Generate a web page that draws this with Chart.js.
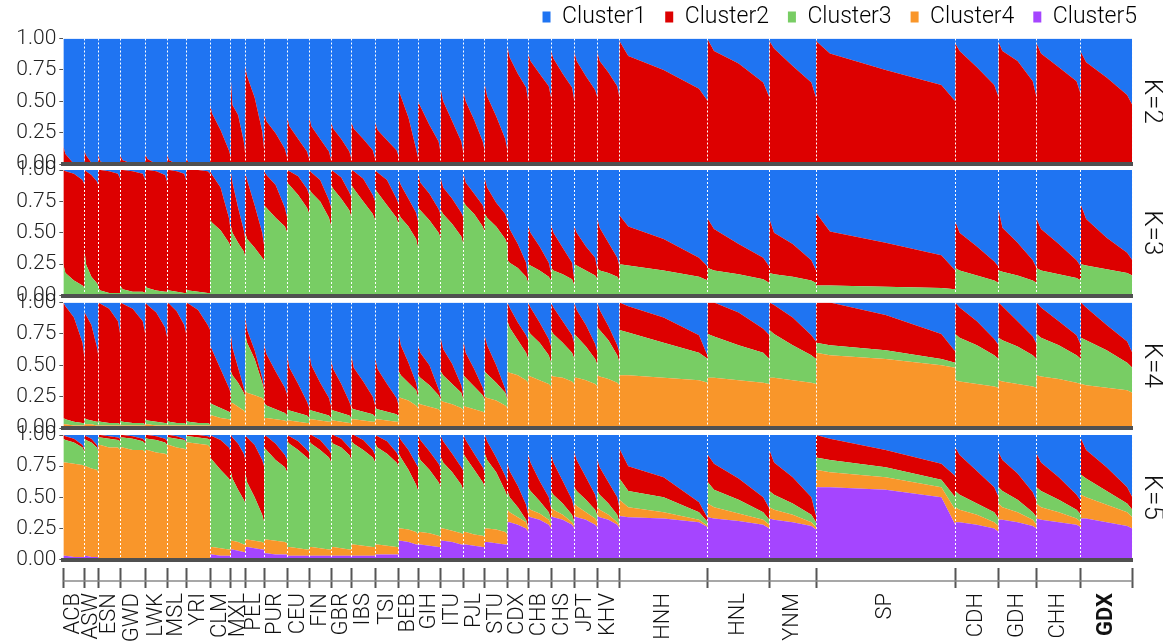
<!DOCTYPE html>
<html><head><meta charset="utf-8">
<script src="https://cdn.jsdelivr.net/npm/chart.js@4.4.1/dist/chart.umd.min.js"></script>
<style>
html,body{margin:0;padding:0;background:#fff;width:1163px;height:644px;overflow:hidden;}
canvas{position:absolute;left:0;}
</style></head><body>
<canvas id="p1"></canvas><canvas id="p2"></canvas><canvas id="p3"></canvas><canvas id="p4"></canvas>
<script>
// ---- categories ----
const populations = ['ACB','ASW','ESN','GWD','LWK','MSL','YRI','CLM','MXL','PEL','PUR','CEU','FIN','GBR','IBS','TSI',
  'BEB','GIH','ITU','PJL','STU','CDX','CHB','CHS','JPT','KHV','HNH','HNL','YNM','SP','CDH','GDH','CHH','GDX'];
// individuals per population (bar widths)
const popSizes = [96,61,99,113,99,85,108,94,64,85,104,99,99,91,107,107,86,103,102,96,102,93,103,105,104,99,398,277,210,627,195,171,200,231];
// fraction of the (sorted) individuals of a population at which the values were read
const samplePoints = [0, 0.1, 0.5, 0.9, 1];
const clusterNames = ['Cluster1','Cluster2','Cluster3','Cluster4','Cluster5'];
const clusterColors = ['#1f74f2','#dd0000','#78cd64','#f9962a','#a545ff'];
const yTicks = [0, 0.25, 0.5, 0.75, 1];
const kLabels = ['K=2','K=3','K=4','K=5'];

// ---- cumulative ancestry (upper edge of each coloured band, bottom band first) ----
// K=2 : Cluster2 (red) upper edge; Cluster1 fills the rest
const k2Cum2 = [
[0.14,0.08,0,0,0],[0.10,0.07,0.01,0,0],[0.075,0.02,0,0,0],[0.065,0.03,0,0,0],[0.08,0.04,0,0,0],[0.07,0.03,0,0,0],[0.05,0.01,0,0,0],
[0.47,0.40,0.27,0.11,0.05],[0.66,0.47,0.39,0.18,0.08],[0.78,0.70,0.53,0.26,0.12],[0.41,0.34,0.245,0.12,0.05],
[0.37,0.30,0.20,0.10,0.04],[0.38,0.30,0.20,0.10,0.03],[0.33,0.28,0.20,0.10,0.04],[0.33,0.28,0.20,0.11,0.04],[0.33,0.27,0.19,0.11,0.05],
[0.58,0.54,0.37,0.12,0.05],[0.50,0.46,0.31,0.18,0.08],[0.59,0.50,0.34,0.18,0.08],[0.57,0.50,0.35,0.18,0.10],[0.63,0.54,0.38,0.20,0.10],
[0.93,0.85,0.72,0.61,0.50],[0.88,0.82,0.72,0.62,0.53],[0.90,0.84,0.72,0.61,0.50],[0.89,0.82,0.70,0.59,0.53],[0.89,0.82,0.73,0.62,0.53],
[0.98,0.86,0.75,0.60,0.50],[0.99,0.90,0.80,0.65,0.53],[0.98,0.92,0.78,0.65,0.53],[0.98,0.88,0.75,0.63,0.50],
[0.96,0.90,0.77,0.63,0.53],[0.97,0.90,0.82,0.66,0.53],[0.96,0.88,0.77,0.66,0.55],[0.89,0.81,0.69,0.55,0.47]];
// K=3 : Cluster3 (green) upper edge, Cluster3+Cluster2 upper edge
const k3Cum3 = [
[0.25,0.18,0.12,0.08,0.06],[0.35,0.25,0.15,0.10,0.08],[0.06,0.04,0.02,0.02,0.02],[0.08,0.05,0.03,0.03,0.02],[0.08,0.06,0.04,0.03,0.03],[0.05,0.04,0.03,0.02,0.02],[0.05,0.04,0.03,0.02,0.02],
[0.60,0.58,0.52,0.42,0.38],[0.55,0.50,0.42,0.35,0.30],[0.50,0.45,0.38,0.30,0.28],[0.72,0.70,0.62,0.55,0.50],
[0.90,0.88,0.80,0.70,0.65],[0.85,0.82,0.75,0.62,0.55],[0.88,0.85,0.77,0.68,0.62],[0.88,0.85,0.75,0.65,0.60],[0.85,0.82,0.72,0.62,0.55],
[0.65,0.62,0.55,0.45,0.38],[0.70,0.68,0.60,0.50,0.45],[0.68,0.65,0.57,0.47,0.40],[0.75,0.72,0.65,0.55,0.50],[0.65,0.62,0.55,0.45,0.40],
[0.28,0.26,0.22,0.15,0.10],[0.25,0.24,0.20,0.15,0.12],[0.22,0.20,0.17,0.13,0.08],[0.25,0.24,0.20,0.16,0.13],[0.22,0.20,0.18,0.15,0.12],
[0.25,0.24,0.20,0.15,0.12],[0.22,0.20,0.17,0.13,0.10],[0.18,0.17,0.15,0.12,0.10],[0.08,0.08,0.07,0.06,0.05],
[0.22,0.20,0.16,0.12,0.10],[0.20,0.19,0.16,0.12,0.10],[0.22,0.20,0.17,0.14,0.12],[0.25,0.24,0.21,0.18,0.16]];
const k3Cum2 = [
[1,0.99,0.97,0.92,0.88],[1,0.99,0.96,0.91,0.88],[1,1,0.99,0.97,0.93],[1,1,0.99,0.97,0.92],[1,1,0.99,0.96,0.90],[1,1,0.99,0.97,0.92],[1,1,1,0.99,0.97],
[0.99,0.96,0.86,0.62,0.50],[0.98,0.90,0.70,0.52,0.45],[0.98,0.92,0.72,0.50,0.40],[0.99,0.96,0.88,0.70,0.62],
[1,0.99,0.95,0.85,0.80],[1,0.98,0.92,0.76,0.70],[1,0.99,0.94,0.82,0.78],[1,0.99,0.93,0.80,0.75],[1,0.98,0.92,0.77,0.72],
[0.92,0.88,0.77,0.66,0.59],[0.97,0.90,0.81,0.69,0.64],[0.93,0.86,0.77,0.66,0.62],[0.97,0.90,0.81,0.72,0.66],[0.93,0.86,0.74,0.65,0.59],
[0.62,0.53,0.41,0.26,0.14],[0.55,0.50,0.39,0.26,0.18],[0.57,0.50,0.38,0.26,0.12],[0.55,0.50,0.39,0.30,0.20],[0.61,0.54,0.42,0.30,0.23],
[0.64,0.55,0.45,0.30,0.23],[0.61,0.53,0.41,0.30,0.23],[0.61,0.50,0.41,0.28,0.20],[0.66,0.51,0.42,0.32,0.20],
[0.59,0.50,0.39,0.27,0.23],[0.68,0.54,0.42,0.28,0.22],[0.61,0.53,0.41,0.28,0.23],[0.72,0.61,0.46,0.34,0.28]];
// K=4 : Cluster4 (orange), +Cluster3 (green), +Cluster2 (red)
const k4Cum4 = [
[0.03,0.03,0.02,0.02,0.02],[0.03,0.03,0.03,0.02,0.02],[0.02,0.02,0.02,0.02,0.02],[0.02,0.02,0.02,0.02,0.02],[0.03,0.03,0.02,0.02,0.02],[0.02,0.02,0.02,0.02,0.02],[0.02,0.02,0.02,0.02,0.02],
[0.10,0.10,0.08,0.07,0.06],[0.20,0.20,0.17,0.14,0.12],[0.30,0.28,0.26,0.24,0.22],[0.08,0.08,0.07,0.06,0.05],
[0.06,0.06,0.05,0.04,0.04],[0.07,0.07,0.06,0.05,0.05],[0.06,0.06,0.05,0.04,0.04],[0.07,0.07,0.06,0.05,0.05],[0.07,0.07,0.06,0.05,0.05],
[0.25,0.24,0.22,0.18,0.16],[0.20,0.19,0.17,0.15,0.13],[0.22,0.21,0.19,0.16,0.14],[0.18,0.17,0.15,0.13,0.12],[0.25,0.24,0.22,0.18,0.16],
[0.45,0.44,0.42,0.38,0.36],[0.42,0.41,0.38,0.35,0.33],[0.42,0.41,0.40,0.37,0.35],[0.40,0.40,0.38,0.35,0.33],[0.42,0.41,0.39,0.36,0.34],
[0.42,0.42,0.40,0.38,0.36],[0.40,0.40,0.38,0.36,0.35],[0.40,0.40,0.38,0.36,0.35],[0.60,0.58,0.55,0.50,0.48],
[0.38,0.37,0.35,0.33,0.32],[0.38,0.37,0.35,0.33,0.32],[0.42,0.41,0.39,0.36,0.35],[0.35,0.34,0.32,0.30,0.28]];
const k4Cum3 = [
[0.08,0.07,0.05,0.04,0.04],[0.08,0.07,0.06,0.05,0.05],[0.06,0.05,0.04,0.04,0.03],[0.06,0.05,0.04,0.04,0.03],[0.07,0.06,0.05,0.04,0.04],[0.06,0.05,0.04,0.04,0.03],[0.06,0.05,0.04,0.04,0.03],
[0.20,0.19,0.16,0.13,0.12],[0.45,0.42,0.36,0.28,0.25],[0.75,0.68,0.55,0.36,0.30],[0.20,0.18,0.15,0.12,0.10],
[0.15,0.14,0.12,0.10,0.08],[0.15,0.14,0.12,0.10,0.08],[0.15,0.14,0.12,0.10,0.08],[0.16,0.15,0.13,0.11,0.09],[0.16,0.15,0.13,0.11,0.09],
[0.45,0.42,0.36,0.30,0.25],[0.42,0.40,0.34,0.26,0.22],[0.45,0.42,0.35,0.28,0.22],[0.42,0.40,0.33,0.26,0.22],[0.45,0.43,0.36,0.28,0.22],
[0.85,0.80,0.70,0.60,0.55],[0.78,0.75,0.68,0.58,0.52],[0.78,0.75,0.68,0.60,0.55],[0.75,0.73,0.65,0.55,0.50],[0.80,0.78,0.70,0.58,0.52],
[0.78,0.76,0.68,0.60,0.55],[0.75,0.73,0.66,0.60,0.55],[0.78,0.75,0.66,0.58,0.55],[0.68,0.66,0.62,0.55,0.52],
[0.75,0.72,0.66,0.58,0.55],[0.72,0.70,0.65,0.58,0.55],[0.75,0.72,0.66,0.58,0.55],[0.72,0.70,0.62,0.52,0.48]];
const k4Cum2 = [
[1,0.97,0.88,0.68,0.55],[0.92,0.90,0.82,0.65,0.58],[1,0.99,0.95,0.85,0.75],[1,0.99,0.95,0.85,0.75],[1,0.98,0.92,0.80,0.72],[1,0.99,0.93,0.82,0.75],[1,0.99,0.94,0.82,0.78],
[0.66,0.62,0.47,0.32,0.27],[0.74,0.64,0.48,0.32,0.27],[0.89,0.78,0.62,0.40,0.32],[0.67,0.59,0.45,0.32,0.26],
[0.58,0.48,0.35,0.21,0.16],[0.60,0.50,0.36,0.24,0.17],[0.54,0.47,0.35,0.21,0.16],[0.58,0.48,0.37,0.25,0.18],[0.56,0.47,0.35,0.24,0.17],
[0.74,0.66,0.52,0.36,0.28],[0.66,0.60,0.50,0.31,0.25],[0.71,0.63,0.51,0.34,0.25],[0.69,0.60,0.47,0.32,0.25],[0.73,0.66,0.50,0.31,0.23],
[1,0.96,0.84,0.74,0.70],[1,0.96,0.84,0.71,0.65],[1,0.96,0.85,0.74,0.67],[1,0.94,0.82,0.67,0.60],[1,0.94,0.81,0.66,0.60],
[1,0.97,0.88,0.74,0.57],[1,1,0.92,0.79,0.74],[1,0.98,0.88,0.74,0.69],[1,1,0.90,0.75,0.61],
[1,0.96,0.85,0.71,0.66],[1,0.97,0.85,0.73,0.67],[1,0.96,0.85,0.74,0.66],[1,0.96,0.82,0.69,0.60]];
// K=5 : Cluster5 (purple), +Cluster4 (orange), +Cluster3 (green), +Cluster2 (red)
const k5Cum5 = [
[0.03,0.03,0.02,0.02,0.02],[0.03,0.03,0.02,0.02,0.02],[0.01,0.01,0.01,0.01,0.01],[0.01,0.01,0.01,0.01,0.01],[0.01,0.01,0.01,0.01,0.01],[0.01,0.01,0.01,0.01,0.01],[0.01,0.01,0.01,0.01,0.01],
[0.04,0.04,0.03,0.03,0.03],[0.08,0.08,0.07,0.06,0.06],[0.10,0.10,0.09,0.08,0.08],[0.05,0.05,0.04,0.04,0.04],
[0.03,0.03,0.03,0.03,0.03],[0.03,0.03,0.03,0.03,0.03],[0.03,0.03,0.03,0.03,0.03],[0.03,0.03,0.03,0.03,0.03],[0.04,0.04,0.04,0.04,0.04],
[0.15,0.15,0.14,0.12,0.12],[0.12,0.12,0.11,0.10,0.10],[0.15,0.15,0.14,0.12,0.12],[0.12,0.12,0.11,0.10,0.10],[0.14,0.14,0.13,0.12,0.12],
[0.30,0.30,0.28,0.25,0.22],[0.35,0.34,0.32,0.28,0.25],[0.35,0.34,0.32,0.28,0.25],[0.35,0.34,0.32,0.28,0.26],[0.35,0.34,0.32,0.28,0.25],
[0.35,0.34,0.33,0.30,0.26],[0.34,0.33,0.31,0.28,0.25],[0.33,0.32,0.30,0.27,0.24],[0.58,0.58,0.56,0.50,0.28],
[0.30,0.30,0.28,0.25,0.22],[0.32,0.32,0.30,0.27,0.25],[0.33,0.32,0.30,0.28,0.26],[0.33,0.33,0.30,0.27,0.25]];
const k5Cum4 = [
[0.78,0.78,0.77,0.76,0.75],[0.75,0.75,0.73,0.72,0.70],[0.92,0.92,0.90,0.90,0.88],[0.90,0.90,0.88,0.88,0.86],[0.88,0.88,0.86,0.85,0.84],[0.92,0.92,0.90,0.89,0.88],[0.94,0.94,0.93,0.92,0.90],
[0.10,0.10,0.09,0.08,0.08],[0.15,0.15,0.14,0.12,0.12],[0.16,0.16,0.15,0.14,0.13],[0.16,0.16,0.15,0.14,0.13],
[0.10,0.10,0.09,0.08,0.08],[0.10,0.10,0.09,0.08,0.08],[0.10,0.10,0.09,0.08,0.08],[0.12,0.12,0.11,0.10,0.10],[0.12,0.12,0.11,0.10,0.10],
[0.25,0.25,0.24,0.22,0.20],[0.22,0.22,0.21,0.19,0.18],[0.25,0.25,0.23,0.21,0.20],[0.22,0.22,0.20,0.19,0.18],[0.25,0.25,0.24,0.22,0.20],
[0.40,0.38,0.34,0.30,0.25],[0.42,0.40,0.37,0.32,0.28],[0.42,0.40,0.36,0.30,0.27],[0.45,0.43,0.38,0.33,0.30],[0.42,0.40,0.36,0.30,0.27],
[0.48,0.42,0.38,0.32,0.27],[0.45,0.42,0.37,0.32,0.28],[0.42,0.40,0.36,0.30,0.26],[0.72,0.70,0.66,0.58,0.40],
[0.42,0.40,0.36,0.30,0.27],[0.45,0.42,0.38,0.32,0.28],[0.45,0.42,0.38,0.33,0.30],[0.52,0.50,0.44,0.38,0.34]];
const k5Cum3 = [
[0.97,0.96,0.94,0.90,0.86],[0.97,0.96,0.94,0.90,0.87],[0.98,0.98,0.97,0.96,0.95],[0.98,0.98,0.97,0.95,0.93],[0.98,0.97,0.96,0.94,0.92],[0.98,0.98,0.97,0.96,0.94],[0.99,0.99,0.98,0.97,0.96],
[0.82,0.80,0.72,0.65,0.62],[0.70,0.65,0.56,0.48,0.45],[0.70,0.62,0.50,0.36,0.30],[0.90,0.88,0.80,0.74,0.70],
[0.95,0.93,0.88,0.82,0.80],[0.95,0.93,0.88,0.82,0.78],[0.95,0.93,0.90,0.84,0.80],[0.95,0.93,0.88,0.82,0.78],[0.93,0.90,0.85,0.78,0.74],
[0.85,0.82,0.72,0.60,0.55],[0.85,0.80,0.72,0.62,0.58],[0.82,0.78,0.70,0.60,0.55],[0.85,0.82,0.72,0.62,0.58],[0.85,0.80,0.70,0.55,0.50],
[0.55,0.50,0.42,0.32,0.26],[0.58,0.55,0.47,0.38,0.32],[0.55,0.52,0.45,0.36,0.30],[0.58,0.55,0.48,0.40,0.35],[0.55,0.52,0.45,0.36,0.30],
[0.65,0.55,0.50,0.38,0.30],[0.62,0.56,0.48,0.38,0.32],[0.55,0.52,0.45,0.36,0.30],[0.82,0.80,0.74,0.64,0.50],
[0.55,0.52,0.45,0.38,0.33],[0.58,0.55,0.48,0.38,0.34],[0.58,0.55,0.48,0.40,0.36],[0.68,0.65,0.55,0.45,0.40]];
const k5Cum2 = [
[1,0.99,0.97,0.92,0.88],[1,0.99,0.97,0.92,0.88],[1,1,0.99,0.98,0.97],[1,1,0.99,0.97,0.95],[1,1,0.99,0.97,0.95],[1,1,0.99,0.97,0.95],[1,1,1,0.99,0.98],
[1,0.99,0.96,0.90,0.86],[1,0.98,0.93,0.85,0.80],[1,0.98,0.92,0.80,0.75],[1,0.99,0.93,0.84,0.80],
[1,0.99,0.95,0.88,0.86],[1,1,0.96,0.88,0.85],[1,1,0.97,0.90,0.88],[1,1,0.96,0.88,0.84],[1,0.99,0.95,0.86,0.82],
[0.99,0.96,0.88,0.77,0.74],[1,0.96,0.87,0.77,0.73],[0.99,0.95,0.85,0.74,0.71],[1,0.96,0.85,0.74,0.70],[1,0.95,0.82,0.67,0.62],
[0.77,0.71,0.59,0.44,0.36],[0.85,0.78,0.63,0.50,0.41],[0.85,0.78,0.63,0.48,0.40],[0.86,0.80,0.66,0.52,0.44],[0.80,0.74,0.62,0.50,0.41],
[0.89,0.75,0.66,0.46,0.33],[0.84,0.77,0.65,0.50,0.41],[0.88,0.78,0.66,0.50,0.35],[1,0.97,0.88,0.77,0.67],
[0.90,0.84,0.71,0.58,0.50],[0.86,0.80,0.69,0.54,0.47],[0.85,0.78,0.66,0.52,0.47],[0.97,0.88,0.74,0.58,0.50]];
// ancestry proportions always add up to 1 (upper edge of Cluster1)
const totalShare = populations.map(() => samplePoints.map(() => 1));

// ---- helpers ----
const FONT = "Roboto, 'Liberation Sans', sans-serif";
const popStart = [];
let acc = 0;
popSizes.forEach(n => { popStart.push(acc); acc += n; });
const totalN = acc;
const separators = popStart.slice(1).concat([totalN]);
const tickEdges = popStart.concat([totalN]);
const popCenters = popStart.map((s, i) => s + popSizes[i] / 2);

function curve(rows) {
  const pts = [];
  rows.forEach((row, i) => row.forEach((v, j) => pts.push({x: popStart[i] + samplePoints[j] * popSizes[i], y: v})));
  return pts;
}
function datasets(layers) {
  return layers.map((l, i) => ({
    label: clusterNames[l.c], data: curve(l.rows),
    fill: i === 0 ? 'origin' : '-1',
    backgroundColor: clusterColors[l.c], borderColor: clusterColors[l.c],
    borderWidth: 0, pointRadius: 0, tension: 0
  }));
}

const bottomAxisLine = {
  id: 'bottomAxisLine',
  afterDraw(chart) {
    const s = chart.scales.xt;
    if (!s) return;
    const ctx = chart.ctx;
    ctx.save();
    ctx.strokeStyle = '#8a8a8a'; ctx.lineWidth = 1.5;
    const y = s.top + 13;
    ctx.beginPath(); ctx.moveTo(s.getPixelForValue(0), y); ctx.lineTo(s.getPixelForValue(totalN), y); ctx.stroke();
    ctx.restore();
  }
};

function makePanel(id, cfg) {
  const cv = document.getElementById(id);
  cv.width = 1163; cv.height = cfg.h; cv.style.top = cfg.top + 'px';
  cv.style.width = '1163px'; cv.style.height = cfg.h + 'px';
  const scales = {
    x: {
      type: 'linear', min: 0, max: totalN, weight: 0,
      afterBuildTicks: s => { s.ticks = separators.map(v => ({value: v})); },
      ticks: {display: false},
      grid: {display: true, drawOnChartArea: true, drawTicks: false, color: '#ffffff', lineWidth: 1, z: 1},
      border: {display: true, color: '#505050', width: 4, dash: [2, 2], z: 2},
      afterFit: s => { s.height = cfg.xh; }
    },
    y: {
      min: 0, max: 1,
      afterBuildTicks: s => { s.ticks = yTicks.map(v => ({value: v})); },
      ticks: {callback: v => v.toFixed(2), font: {family: FONT, size: 21, weight: 300}, color: '#222', padding: 3},
      grid: {drawOnChartArea: false, drawTicks: true, tickLength: 4, color: '#555'},
      border: {display: false},
      afterFit: s => { s.width = 63.3; }
    },
    y2: {
      position: 'right', min: 0, max: 1,
      ticks: {display: false}, grid: {display: false}, border: {display: false},
      title: {display: true, text: cfg.k, color: '#111', padding: 0,
              font: {family: FONT, size: 26, weight: 300, lineHeight: 0.35}},
      afterFit: s => { s.width = 23.7; }
    }
  };
  if (cfg.bottomAxis) {
    scales.xt = {
      type: 'linear', position: 'bottom', min: 0, max: totalN, weight: 1,
      afterBuildTicks: s => { s.ticks = tickEdges.map(v => ({value: v})); },
      ticks: {display: false},
      grid: {display: true, drawOnChartArea: false, drawTicks: true, tickLength: 20, tickWidth: 2, tickColor: '#555'},
      border: {display: false},
      afterFit: s => { s.height = 20; }
    };
    scales.xl = {
      type: 'linear', position: 'bottom', min: 0, max: totalN, weight: 2,
      afterBuildTicks: s => { s.ticks = popCenters.map(v => ({value: v})); },
      ticks: {
        autoSkip: false, minRotation: 90, maxRotation: 90, padding: 5, color: '#111',
        callback: (v, i) => populations[i],
        font: c => ({family: FONT, size: 22, weight: populations[c.index] === 'GDX' ? 'bold' : 300})
      },
      grid: {display: false, drawTicks: false},
      border: {display: false},
      afterFit: s => { s.height = cfg.lh; }
    };
  }
  return new Chart(cv, {
    type: 'line',
    data: {datasets: datasets(cfg.layers)},
    plugins: [bottomAxisLine],
    options: {
      responsive: false, animation: false, devicePixelRatio: 1,
      layout: {padding: {top: cfg.padTop, bottom: cfg.padBottom, left: 0, right: 7}},
      interaction: {mode: null},
      plugins: {
        tooltip: {enabled: false},
        legend: cfg.legend ? {
          display: true, position: 'top', align: 'end',
          labels: {
            boxWidth: 8, boxHeight: 11, padding: 19, color: '#111',
            font: {family: FONT, size: 23, weight: 300},
            generateLabels: () => clusterNames.map((n, i) => ({text: n, fillStyle: clusterColors[i], strokeStyle: clusterColors[i], lineWidth: 0, hidden: false}))
          }
        } : {display: false}
      },
      scales
    }
  });
}

function draw() {
  makePanel('p1', {top: 0, h: 184, padTop: -13.5, padBottom: 16, xh: 4, k: kLabels[0], legend: true,
    layers: [{c: 1, rows: k2Cum2}, {c: 0, rows: totalShare}]});
  makePanel('p2', {top: 150, h: 166, padTop: 20, padBottom: 16.5, xh: 4, k: kLabels[1],
    layers: [{c: 2, rows: k3Cum3}, {c: 1, rows: k3Cum2}, {c: 0, rows: totalShare}]});
  makePanel('p3', {top: 282, h: 166, padTop: 20.5, padBottom: 16, xh: 4, k: kLabels[2],
    layers: [{c: 3, rows: k4Cum4}, {c: 2, rows: k4Cum3}, {c: 1, rows: k4Cum2}, {c: 0, rows: totalShare}]});
  makePanel('p4', {top: 415, h: 229, padTop: 20, padBottom: 0, xh: 8.5, lh: 56, k: kLabels[3], bottomAxis: true,
    layers: [{c: 4, rows: k5Cum5}, {c: 3, rows: k5Cum4}, {c: 2, rows: k5Cum3}, {c: 1, rows: k5Cum2}, {c: 0, rows: totalShare}]});
}
if (document.fonts && document.fonts.load) {
  Promise.all([document.fonts.load('300 22px Roboto'), document.fonts.load('bold 22px Roboto')]).then(draw, draw);
} else { draw(); }
</script>
</body></html>
